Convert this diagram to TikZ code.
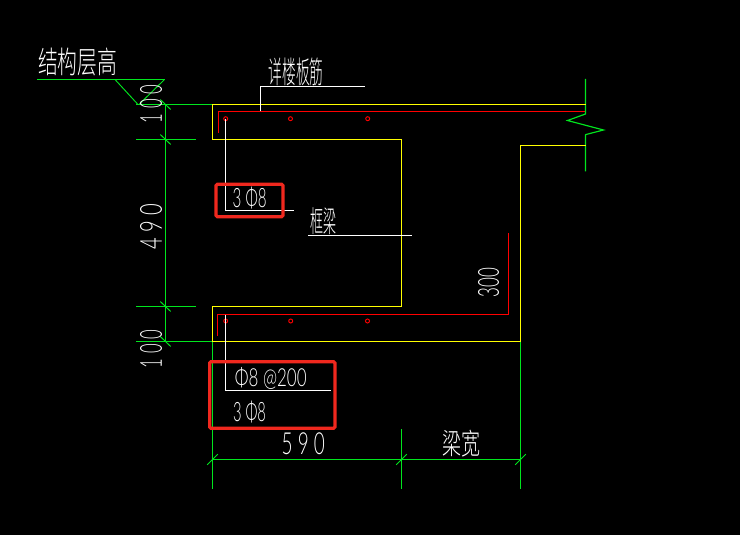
\documentclass[tikz,border=0pt]{standalone}
\usepackage{graphicx}
\usepackage{fontspec}
\setmainfont{Liberation Sans}
\newfontfamily\cjk[UprightFont={* Light}]{Noto Sans CJK SC}
\newfontfamily\digs{Lato Light}
\newlength{\pxu}\setlength{\pxu}{0.75pt}
\definecolor{cadgreen}{RGB}{0,230,30}
\definecolor{cadyellow}{RGB}{255,255,0}
\definecolor{cadred}{RGB}{255,0,0}
\definecolor{markbox}{RGB}{240,40,30}
\tikzset{
 wire/.style={line width=0.88pt},
 gline/.style={wire,draw=cadgreen},
 tick/.style={draw=cadgreen,line width=0.7pt},
 yline/.style={wire,draw=cadyellow},
 rline/.style={wire,draw=cadred},
 wline/.style={wire,draw=white},
 bar/.style={draw=cadred,line width=0.7pt},
 markframe/.style={draw=markbox,line width=2.4pt,rounded corners=1pt},
 cad/.style={text=white,inner sep=0pt,outer sep=0pt}
}
\newcommand{\fit}[3]{\resizebox*{#1\pxu}{#2\pxu}{#3}}
\begin{document}
\begin{tikzpicture}[x=0.75pt,y=-0.75pt]
\useasboundingbox[fill=black] (0,0) rectangle (740,535);
% green dimension lines
\draw[gline] (37,79.5) -- (164.5,79.5);
\draw[tick] (115,79.5) -- (138,104.5);
\draw[tick] (164.5,79.5) -- (139,104.5);
\draw[gline] (136,104.5) -- (212.5,104.5);
\draw[gline] (136,139.5) -- (195.7,139.5);
\draw[gline] (136,306.5) -- (195.7,306.5);
\draw[gline] (136,341.5) -- (212.5,341.5);
\draw[gline] (165.5,104.5) -- (165.5,341.5);
\foreach \yy in {104.5,139.5,306.5,341.5}
  \draw[tick] (160.3,\yy-5) -- (170.7,\yy+5);
\draw[gline] (212.5,306.5) -- (212.5,489);
\draw[gline] (401.5,429) -- (401.5,489);
\draw[gline] (520.5,341.5) -- (520.5,489);
\draw[gline] (212.5,459.5) -- (520.5,459.5);
\foreach \xx in {212.5,401.5,520.5}
  \draw[tick] (\xx-5.3,464.8) -- (\xx+5.3,454.2);
\draw[gline] (585.5,79) -- (585.5,114) -- (567.5,120.5) -- (603.5,130) -- (586,134.5) -- (585.5,135) -- (585.5,171.5);
% yellow outline
\draw[yline] (585.5,104.5) -- (212.5,104.5) -- (212.5,139.5) -- (401.5,139.5) -- (401.5,306.5) -- (212.5,306.5) -- (212.5,341.5) -- (520.5,341.5) -- (520.5,145.5) -- (585.5,145.5);
% red bars
\draw[rline] (218.5,132.7) -- (218.5,111.5) -- (585,111.5);
\draw[rline] (217.5,335.7) -- (217.5,314.5) -- (508.5,314.5) -- (508.5,233);
\foreach \xx/\yy in {225.7/118.7,290.5/118.7,367.7/118.7,225.7/321,290.7/321,367.5/321}
  \draw[bar] (\xx,\yy) circle (2);
% white leaders
\draw[wline] (225.5,118.7) -- (225.5,210.5) -- (293.7,210.5);
\draw[wline] (260.5,111.5) -- (260.5,86.5) -- (365,86.5);
\draw[wline] (308,235.5) -- (412,235.5);
\draw[wline] (225.5,314.5) -- (225.5,390.5) -- (331,390.5);
% texts
\node[cad] (jgcg) at (77.5,62) {\fit{79}{28}{\cjk 结构层高}};
\node[cad] (xlbj) at (296,72) {\fit{55}{28}{\cjk 详楼板筋}};
\node[cad] (kl) at (323,221.5) {\fit{26}{27}{\cjk 框梁}};
\node[cad] (lk) at (461,443.3) {\fit{38}{27}{\cjk 梁宽}};
\node[cad] (gj) at (249.7,197.7) {\fit{34}{22}{\digs 3 Φ8}};
\node[cad] (gg) at (270.8,378) {\fit{71.7}{22}{\digs Φ8 @200}};
\node[cad] (dj) at (249.5,411.8) {\fit{33}{22}{\digs 3 Φ8}};
\node[cad] (ww) at (303.3,444) {\fit{43.3}{22}{\digs 5 9 0}};
\node[cad,rotate=90] (ya) at (151,104) {\fit{38}{22}{\digs 1 0 0}};
\node[cad,rotate=90] (yb) at (151,226.5) {\fit{46}{22}{\digs 4 9 0}};
\node[cad,rotate=90] (yc) at (151,349) {\fit{38}{22}{\digs 1 0 0}};
\node[cad,rotate=90] (yd) at (488.5,282.7) {\fit{29.5}{21}{\digs 300}};
% red marks
\draw[markframe] (216,184.3) rectangle (283,216.7);
\draw[markframe] (209.7,361.7) rectangle (335,428.3);
\end{tikzpicture}
\end{document}
